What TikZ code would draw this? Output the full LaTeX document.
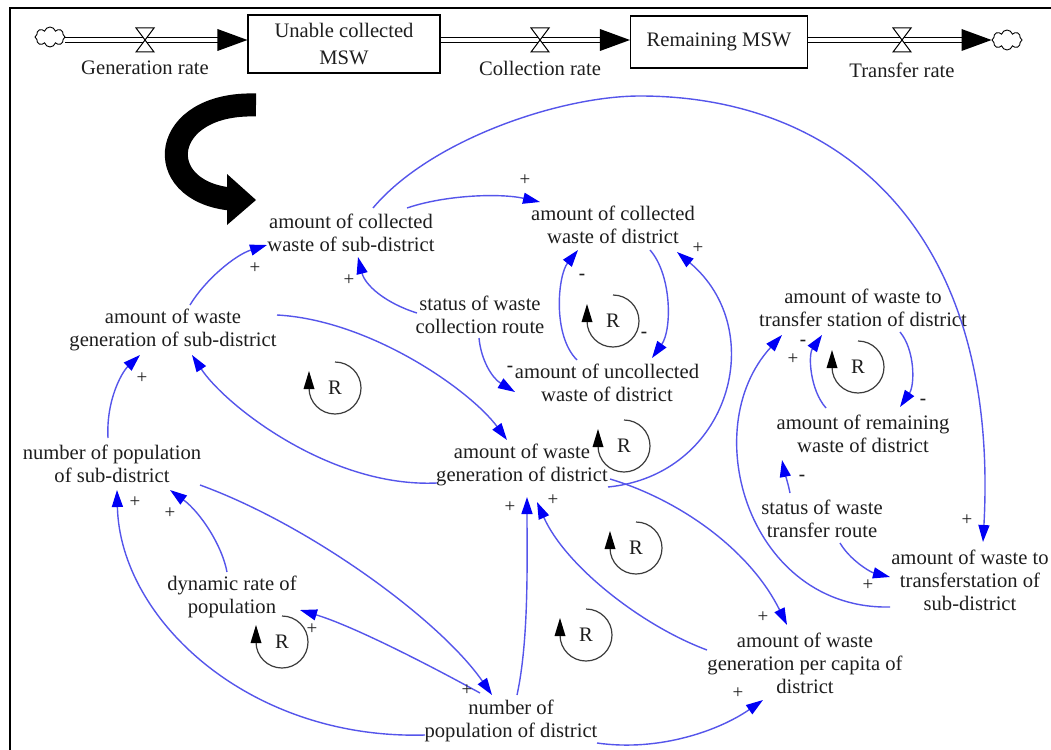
\documentclass[tikz,border=0pt]{standalone}
\usepackage{fontspec}
\setmainfont{Liberation Serif}
\usetikzlibrary{arrows.meta,calc,shapes.symbols}
\definecolor{ink}{RGB}{30,30,30}
\definecolor{linkblue}{RGB}{85,85,235}
\definecolor{tipblue}{RGB}{0,0,245}
\definecolor{loopgray}{RGB}{60,60,60}
% loop marker: R inside an open circle with an upward arrowhead on its left
\newcommand\rloop[3]{%
  \node[txt,inner sep=0pt] (#1) at (#2,#3) {R};
  \draw[loopc] ($(#1.center)+(0,-26)$) arc[start angle=90,end angle=-180,radius=26pt];
  \fill[black] ($(#1.center)+(-31.5,1)$) -- ($(#1.center)+(-26,-17)$) -- ($(#1.center)+(-20.5,1)$) -- cycle;
}
% flow valve (hourglass) centred on a named coordinate
\newcommand\valveat[1]{%
  \filldraw[valveshape] ($(#1)+(-9,-12)$) -- ($(#1)+(9,-12)$) -- ($(#1)+(-9,12)$) -- ($(#1)+(9,12)$) -- cycle;
}
\begin{document}
\begin{tikzpicture}[x=1pt,y=-1pt,
  txt/.style={align=center,inner sep=2pt,text=ink,font=\fontsize{20.6}{23}\selectfont},
  stock/.style={draw,line width=1.1pt,align=center,text=ink,font=\fontsize{20.6}{27}\selectfont,inner sep=0pt},
  link/.style={draw=linkblue,line width=1.4pt,-{Triangle[length=17pt,width=11pt,color=tipblue,fill=tipblue]}},
  plus/.style={inner sep=0pt,text=ink,font=\fontsize{19}{19}\selectfont},
  minus/.style={inner sep=0pt,text=ink,font=\fontsize{19}{19}\selectfont\bfseries},
  loopc/.style={draw=loopgray,line width=1.2pt},
  pipe/.style={draw=black,double=white,double distance=4pt,line width=1.1pt},
  valveshape/.style={fill=white,draw=black,line width=1pt},
  sink/.style={cloud,cloud puffs=8,aspect=1.4,draw,line width=0.9pt,minimum width=30pt,minimum height=20pt,inner sep=0pt}]

\useasboundingbox (0,0) rectangle (1051,749);
\fill[white] (0,0) rectangle (1051,749);

% frame
\draw[line width=2.6pt] (10,770) -- (10,8) -- (1070,8);

% ---------- stock and flow chain ----------
\coordinate (pipeY) at (0,40);
\node[sink] (cloudL) at (50,37) {};
\node[stock,minimum width=192pt,minimum height=58pt] (boxU) at (344,44) {Unable collected\\MSW};
\node[stock,minimum width=177pt,minimum height=52pt] (boxR) at (719,42) {Remaining MSW};
\node[sink] (cloudR) at (1007,40) {};

\draw[pipe] (cloudL.east |- pipeY) -- ($(boxU.west |- pipeY)+(-29,0)$);
\fill ($(boxU.west |- pipeY)+(-30,-11)$) -- (boxU.west |- pipeY) -- ($(boxU.west |- pipeY)+(-30,11)$) -- cycle;
\draw[pipe] (boxU.east |- pipeY) -- ($(boxR.west |- pipeY)+(-29,0)$);
\fill ($(boxR.west |- pipeY)+(-30,-11)$) -- (boxR.west |- pipeY) -- ($(boxR.west |- pipeY)+(-30,11)$) -- cycle;
\draw[pipe] (boxR.east |- pipeY) -- ($(cloudR.west |- pipeY)+(-29,0)$);
\fill ($(cloudR.west |- pipeY)+(-30,-11)$) -- (cloudR.west |- pipeY) -- ($(cloudR.west |- pipeY)+(-30,11)$) -- cycle;

\coordinate (vGen) at (145,40);
\coordinate (vCol) at (540,40);
\coordinate (vTra) at (902,40);
\valveat{vGen}\valveat{vCol}\valveat{vTra}
\node[txt] (lGen) at (145,68) {Generation rate};
\node[txt] (lCol) at (540,68) {Collection rate};
\node[txt] (lTra) at (902,70) {Transfer rate};

% ---------- bold curved arrow ----------
\draw[line width=23pt] (256,105) .. controls (160,102) and (150,190) .. (230,199);
\fill (227,174) -- (256,200) -- (227,225) -- cycle;

% ---------- variables ----------
\node[txt] (csub) at (351,233) {amount of collected\\waste of sub-district};
\node[txt] (cdis) at (613,225) {amount of collected\\waste of district};
\node[txt] (scol) at (480,315) {status of waste\\collection route};
\node[txt] (udis) at (607,383) {amount of uncollected\\waste of district};
\node[txt] (gsub) at (173,330) {amount of waste\\generation of sub-district};
\node[txt] (psub) at (112,464) {number of population\\of sub-district};
\node[txt] (gdis) at (522,465) {amount of waste\\generation of district};
\node[txt] (dyn)  at (232,597) {dynamic rate of\\population};
\node[txt] (pdis) at (511,721) {number of\\population of district};
\node[txt] (pcap) at (805,663) {amount of waste\\generation per capita of\\district};
\node[txt] (tdis) at (863,308) {amount of waste to\\transfer station of district};
\node[txt] (rdis) at (863,434) {amount of remaining\\waste of district};
\node[txt] (stra) at (822,519) {status of waste\\transfer route};
\node[txt] (tsub) at (970,580) {amount of waste to\\transferstation of\\sub-district};

% ---------- causal links ----------
\coordinate (arcTop) at (640,96);
\draw[link] ($(csub.center)+(56,-25)$) .. controls (445,195) and (500,193) .. ($(cdis.center)+(-73,-23)$);
\draw[link] ($(csub.center)+(22,-25)$) .. controls (430,140) and (560,96) .. (arcTop)
            .. controls (840,96) and (1000,230) .. ($(tsub.center)+(13,-38)$);
\draw[link] ($(scol.center)+(-63,-2)$) .. controls (385,303) and (365,285) .. ($(csub.center)+(7,24)$);
\draw[link] ($(scol.center)+(-1,23)$) .. controls (481,360) and (492,378) .. ($(udis.center)+(-92,9)$);
\draw[link] ($(udis.center)+(-30,-23)$) .. controls (552,335) and (558,275) .. ($(cdis.center)+(-35,25)$);
\draw[link] ($(cdis.center)+(37,25)$) .. controls (672,275) and (672,330) .. ($(udis.center)+(45,-25)$);
\draw[link] ($(gdis.center)+(86,22)$) .. controls (730,475) and (770,330) .. ($(cdis.center)+(64,27)$);
\draw[link] ($(gdis.center)+(-85,18)$) .. controls (330,488) and (225,405) .. ($(gsub.center)+(19,25)$);
\draw[link] ($(gsub.center)+(104,-15)$) .. controls (370,320) and (470,390) .. ($(gdis.center)+(-15,-25)$);
\draw[link] ($(gsub.center)+(17,-25)$) .. controls (205,280) and (235,255) .. ($(csub.center)+(-84,12)$);
\draw[link] ($(psub.center)+(-4,-26)$) .. controls (106,400) and (122,372) .. ($(gsub.center)+(-33,25)$);
\draw[link] ($(gdis.center)+(88,14)$) .. controls (680,500) and (750,550) .. ($(pcap.center)+(-18,-38)$);
\draw[link] ($(pcap.center)+(-98,-13)$) .. controls (640,625) and (565,565) .. ($(gdis.center)+(15,37)$);
\draw[link] ($(pdis.center)+(6,-26)$) .. controls (529,640) and (527,560) .. ($(gdis.center)+(5,32)$);
\draw[link] ($(pdis.center)+(-86,14)$) .. controls (250,740) and (120,620) .. ($(psub.center)+(5,26)$);
\draw[link] ($(dyn.center)+(-5,-25)$) .. controls (222,545) and (200,512) .. ($(psub.center)+(58,26)$);
\draw[link] ($(psub.center)+(88,21)$) .. controls (310,525) and (440,620) .. ($(pdis.center)+(-19,-26)$);
\draw[link] ($(pdis.center)+(-31,-28)$) .. controls (420,660) and (350,625) .. ($(dyn.center)+(68,13)$);
\draw[link] ($(pdis.center)+(86,22)$) .. controls (660,752) and (720,730) .. ($(pcap.center)+(-42,37)$);
\draw[link] ($(stra.center)+(-32,-26)$) .. controls (788,483) and (784,470) .. ($(rdis.center)+(-81,26)$);
\draw[link] ($(stra.center)+(18,24)$) .. controls (850,560) and (870,572) .. ($(tsub.center)+(-80,-3)$);
\draw[link] ($(tsub.center)+(-80,27)$) .. controls (750,610) and (695,430) .. ($(tdis.center)+(-81,27)$);
\draw[link] ($(rdis.center)+(-37,-26)$) .. controls (810,390) and (808,355) .. ($(tdis.center)+(-41,27)$);
\draw[link] ($(tdis.center)+(37,24)$) .. controls (915,350) and (915,385) .. ($(rdis.center)+(37,-27)$);

% ---------- polarities ----------
\node[plus]  (p1)  at (525,180) {+};
\node[plus]  (p2)  at (255,268) {+};
\node[plus]  (p3)  at (349,280) {+};
\node[minus] (p4)  at (510,369) {-};
\node[minus] (p5)  at (582,277) {-};
\node[minus] (p6)  at (644,335) {-};
\node[plus]  (p7)  at (698,248) {+};
\node[plus]  (p8)  at (142,378) {+};
\node[plus]  (p9)  at (135,502) {+};
\node[plus]  (p10) at (170,513) {+};
\node[plus]  (p11) at (510,507) {+};
\node[plus]  (p12) at (553,500) {+};
\node[plus]  (p13) at (467,690) {+};
\node[plus]  (p14) at (312,629) {+};
\node[plus]  (p15) at (763,617) {+};
\node[plus]  (p16) at (738,693) {+};
\node[plus]  (p17) at (967,520) {+};
\node[plus]  (p18) at (868,585) {+};
\node[minus] (p19) at (802,478) {-};
\node[plus]  (p20) at (793,359) {+};
\node[minus] (p21) at (803,343) {-};
\node[minus] (p22) at (923,402) {-};

% ---------- loop markers ----------
\rloop{rA}{613}{321}
\rloop{rB}{335}{388}
\rloop{rC}{624}{446}
\rloop{rD}{636}{548}
\rloop{rE}{282}{642}
\rloop{rF}{586}{635}
\rloop{rG}{858}{367}
\end{tikzpicture}
\end{document}
